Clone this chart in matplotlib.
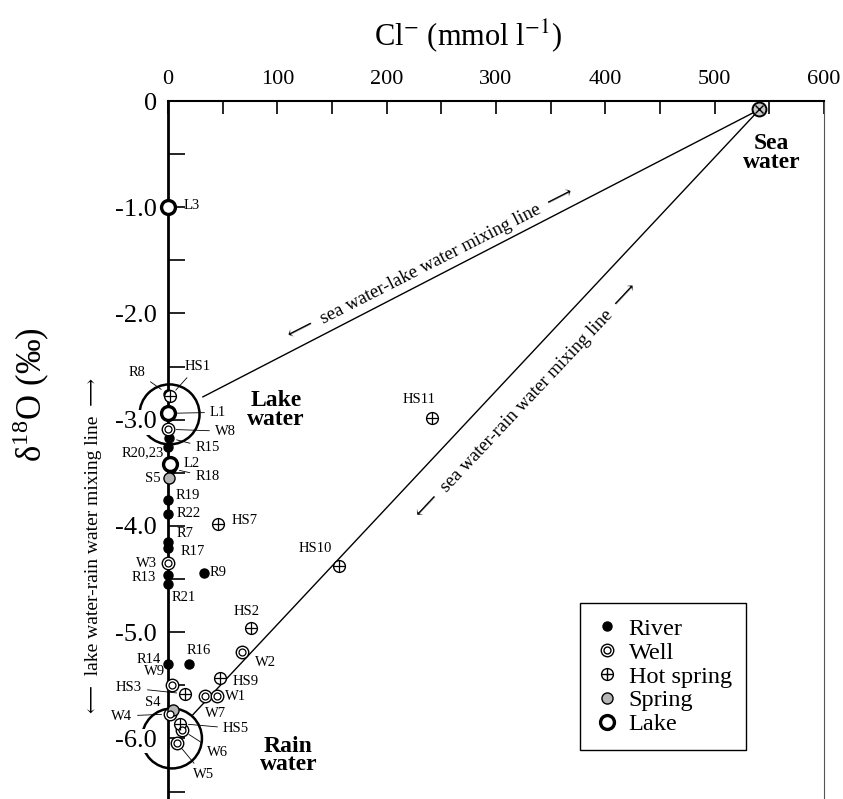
import matplotlib
matplotlib.use('Agg')
import matplotlib.pyplot as plt
from matplotlib.lines import Line2D
from matplotlib.patches import Ellipse
from matplotlib.legend_handler import HandlerTuple
from matplotlib.ticker import FixedLocator, MultipleLocator

plt.rcParams['font.family'] = ['Liberation Serif', 'DejaVu Serif']
plt.rcParams['mathtext.fontset'] = 'stix'

# ---------------- data (Cl- mmol/l, delta18O permil) ----------------
river_labels = ['R8', 'R15', 'R20,23', 'R18', 'R19', 'R22', 'R7', 'R17', 'R13', 'R21', 'R9', 'R16', 'R14']
river_cl = [0, 0.5, 0, 3, 0, 0, 0, 0, 0, 0, 33, 19, 0]
river_d18o = [-2.76, -3.17, -3.26, -3.46, -3.76, -3.89, -4.15, -4.21, -4.46, -4.55, -4.44, -5.30, -5.30]

well_labels = ['W8', 'W3', 'W2', 'W9', 'W7', 'W1', 'W4', 'W6', 'W5']
well_cl = [0, 0, 67.5, 3.5, 33.7, 44.7, 1.8, 12.8, 8.2]
well_d18o = [-3.09, -4.35, -5.19, -5.50, -5.60, -5.60, -5.77, -5.92, -6.04]

hot_labels = ['HS1', 'HS7', 'HS11', 'HS10', 'HS2', 'HS9', 'HS3', 'HS5']
hot_cl = [2, 45.6, 241.6, 156.8, 75.7, 47.4, 15.5, 11]
hot_d18o = [-2.78, -3.98, -2.98, -4.38, -4.96, -5.43, -5.58, -5.86]

spring_labels = ['S5', 'S4']
spring_cl = [1, 4.6]
spring_d18o = [-3.55, -5.73]

lake_labels = ['L3', 'L1', 'L2']
lake_cl = [0, 0, 2]
lake_d18o = [-1.0, -2.94, -3.42]

sea_cl = [541]
sea_d18o = [-0.08]

# end-members (circles) and mixing line end points
lake_member = (1.4, -2.95)
rain_member = (3.6, -6.0)
lake_line_cl = [541, 31.9]
lake_line_d18o = [-0.08, -2.785]
rain_line_cl = [541, 22.8]
rain_line_d18o = [-0.08, -5.776]

x_ticks = [0, 100, 200, 300, 400, 500, 600]
y_ticks = [0, -1, -2, -3, -4, -5, -6]
y_ticklabels = ['0', '-1.0', '-2.0', '-3.0', '-4.0', '-5.0', '-6.0']

# ---------------- label layout (pixel offsets, ha, leader) ----------------
label_layout = {
    'R8': (-31, 22, 'center', True), 'R15': (27, -10, 'left', True),
    'R20,23': (-4, -5, 'right', False), 'R18': (24, -8, 'left', True),
    'R19': (8, 5, 'left', False), 'R22': (9, 1, 'left', False),
    'R7': (9, 8, 'left', False), 'R17': (13, -3, 'left', False),
    'R13': (-12, -3, 'right', False), 'R21': (4, -13, 'left', False),
    'R9': (6, 0, 'left', False), 'R16': (-2, 14, 'left', False),
    'R14': (-7, 5, 'right', False),
    'W8': (47, -2, 'left', True), 'W3': (-11, 0, 'right', False),
    'W2': (13, -10, 'left', False), 'W9': (-7, 14, 'right', False),
    'W7': (0, -18, 'left', False), 'W1': (8, -1, 'left', False),
    'W4': (-38, -2, 'right', True), 'W6': (25, -23, 'left', True),
    'W5': (16, -32, 'left', True),
    'HS1': (27, 30, 'center', True), 'HS7': (14, 3, 'left', False),
    'HS11': (-13, 18, 'center', False), 'HS10': (-24, 18, 'center', False),
    'HS2': (-4, 16, 'center', False), 'HS9': (13, -4, 'left', False),
    'HS3': (-43, 6, 'right', True), 'HS5': (43, -5, 'left', True),
    'S5': (-8, 0, 'right', False), 'S4': (-13, 7, 'right', False),
    'L3': (16, 2, 'left', False), 'L1': (42, 1, 'left', True),
    'L2': (13, 1, 'left', False),
}

W, H = 843, 799
fig = plt.figure(figsize=(W / 100, H / 100), dpi=100)
ax = fig.add_axes([168 / W, 0, (824 - 168) / W, (H - 101) / H])
ax.set_xlim(0, 600)
ax.set_ylim(-6.57, 0)

# spines
ax.spines['bottom'].set_visible(False)
ax.spines['left'].set_linewidth(2.0)
ax.spines['top'].set_linewidth(1.5)
ax.spines['right'].set_linewidth(0.8)
ax.spines['right'].set_color('#555555')

ax.xaxis.tick_top()
ax.xaxis.set_major_locator(FixedLocator(x_ticks))
ax.xaxis.set_minor_locator(MultipleLocator(50))
ax.tick_params(axis='x', which='both', direction='in', length=9, width=1.2,
               labelsize=16, pad=9, top=True, bottom=False)
ax.yaxis.set_major_locator(FixedLocator(y_ticks))
ax.set_yticklabels(y_ticklabels)
ax.yaxis.set_minor_locator(MultipleLocator(0.5))
ax.tick_params(axis='y', which='both', direction='in', length=12, width=1.2,
               labelsize=19, pad=8, right=False)

# end-member circles
for c in (lake_member, rain_member):
    ax.add_patch(Ellipse(c, width=2 * 30 / 1.0933, height=2 * 30 / 106.3,
                         fill=False, lw=1.8, ec='black', zorder=1, clip_on=False))

# mixing lines
ax.plot(lake_line_cl, lake_line_d18o, color='black', lw=1.0, zorder=2, clip_on=False)
ax.plot(rain_line_cl, rain_line_d18o, color='black', lw=1.0, zorder=2, clip_on=False)

mk = dict(ls='none', clip_on=False, zorder=5)
# river
ax.plot(river_cl, river_d18o, marker='o', ms=6.5, mfc='black', mec='black', **mk)
# well (double circle)
ax.plot(well_cl, well_d18o, marker='o', ms=9, mfc='white', mec='black', mew=1.0, **mk)
ax.plot(well_cl, well_d18o, marker='o', ms=5, mfc='white', mec='black', mew=0.9, ls='none',
        clip_on=False, zorder=6)
# hot spring
ax.plot(hot_cl, hot_d18o, marker='o', ms=8.5, mfc='white', mec='black', mew=1.0, **mk)
ax.plot(hot_cl, hot_d18o, marker='+', ms=8.5, mec='black', mew=0.9, ls='none',
        clip_on=False, zorder=6)
# spring
ax.plot(spring_cl, spring_d18o, marker='o', ms=8, mfc='#b5b5b5', mec='black', mew=1.0, **mk)
# lake
ax.plot(lake_cl, lake_d18o, marker='o', ms=10, mfc='white', mec='black', mew=2.4, **mk)
# sea water
ax.plot(sea_cl, sea_d18o, marker='o', ms=10, mfc='#c8c8c8', mec='black', mew=1.4, **mk)
ax.plot(sea_cl, sea_d18o, marker='x', ms=6, mec='black', mew=1.0, ls='none',
        clip_on=False, zorder=6)

# point labels
for labs, xs, ys in [(river_labels, river_cl, river_d18o), (well_labels, well_cl, well_d18o),
                     (hot_labels, hot_cl, hot_d18o), (spring_labels, spring_cl, spring_d18o),
                     (lake_labels, lake_cl, lake_d18o)]:
    for lab, x, y in zip(labs, xs, ys):
        dx, dy, ha, leader = label_layout[lab]
        kw = {}
        if leader:
            kw['arrowprops'] = dict(arrowstyle='-', lw=0.6, color='black',
                                    shrinkA=2, shrinkB=6)
        ax.annotate(lab, (x, y), xytext=(dx, dy), textcoords='offset pixels',
                    ha=ha, va='center', fontsize=10.5, zorder=7,
                    annotation_clip=False, **kw)

# end-member names
bold = dict(fontsize=17, fontweight='bold', ha='center', va='center', linespacing=0.85)
ax.text(99, -2.91, 'Lake\nwater', **bold)
ax.text(110, -6.16, 'Rain\nwater', clip_on=False, **bold)
ax.text(552, -0.49, 'Sea\nwater', **bold)

# mixing line annotations
arrow_l, arrow_r = '\u27f5', '\u27f6'
ax.text(240.6, -1.54, f'{arrow_l}  sea water-lake water mixing line  {arrow_r}', rotation=27.0,
        rotation_mode='anchor', ha='center', va='center', fontsize=13.5)
ax.text(328, -2.82, f'{arrow_l}  sea water-rain water mixing line  {arrow_r}', rotation=46.8,
        rotation_mode='anchor', ha='center', va='center', fontsize=13.5)

# legend
h_river = Line2D([], [], marker='o', ms=6.5, mfc='black', mec='black', ls='none')
h_well = (Line2D([], [], marker='o', ms=9, mfc='white', mec='black', ls='none'),
          Line2D([], [], marker='o', ms=5, mfc='white', mec='black', ls='none'))
h_hot = (Line2D([], [], marker='o', ms=8.5, mfc='white', mec='black', ls='none'),
         Line2D([], [], marker='+', ms=8.5, mec='black', ls='none'))
h_spring = Line2D([], [], marker='o', ms=8, mfc='#b5b5b5', mec='black', ls='none')
h_lake = Line2D([], [], marker='o', ms=10, mfc='white', mec='black', mew=2.4, ls='none')
leg = ax.legend([h_river, h_well, h_hot, h_spring, h_lake],
                ['River', 'Well', 'Hot spring', 'Spring', 'Lake'],
                handler_map={tuple: HandlerTuple(ndivide=1, pad=0)},
                loc='upper left', bbox_to_anchor=(580 / W, 1 - 603 / H),
                bbox_transform=fig.transFigure, fontsize=17.5, frameon=True,
                fancybox=False, edgecolor='black', framealpha=1,
                handlelength=1.0, handletextpad=0.4, labelspacing=0.08,
                borderpad=0.6, borderaxespad=0)
leg.get_frame().set_linewidth(1.0)

# axis titles
fig.text(468 / W, 1 - 36 / H, r'Cl$^{-}$ (mmol l$^{-1}$)', ha='center', va='center', fontsize=22)
fig.text(31 / W, 1 - 395 / H, r'δ$^{\mathregular{18}}$O (‰)', ha='center', va='center',
         rotation=90, fontsize=25)
fig.text(94 / W, 1 - 545 / H, f'{arrow_l}  lake water-rain water mixing line  {arrow_r}',
         ha='center', va='center', rotation=90, fontsize=14)

fig.canvas.draw()
for lbl in ax.get_yticklabels():
    lbl.set_bbox(dict(facecolor='white', edgecolor='none', pad=1))

fig.savefig('out.png', dpi=100)
